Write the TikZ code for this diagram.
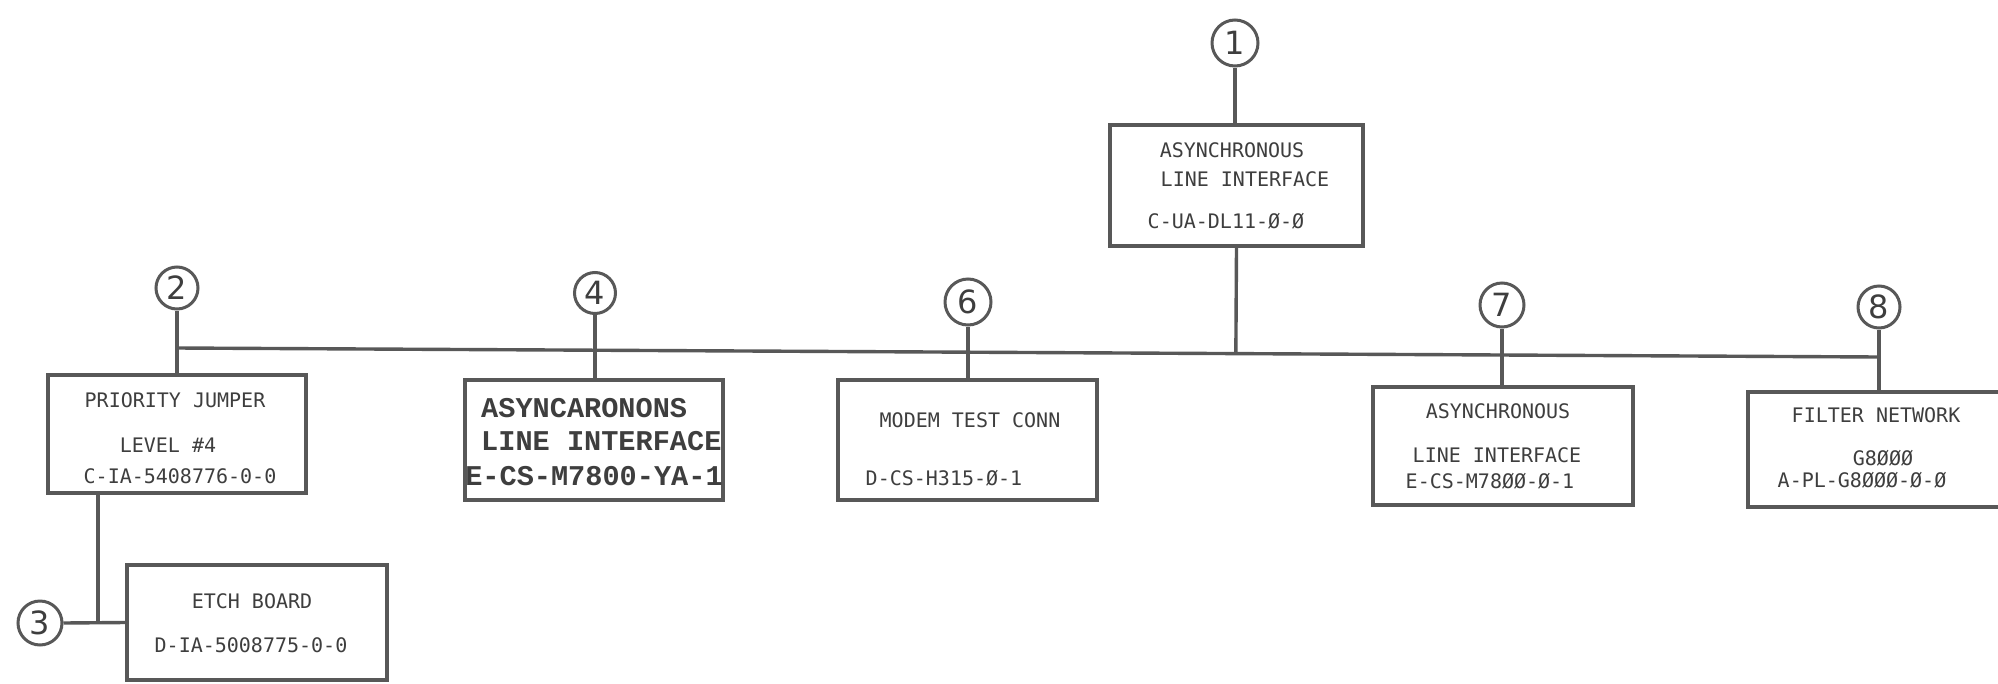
\documentclass[tikz,border=0pt]{standalone}
\usepackage{fontspec}
\setmainfont{DejaVu Sans}
\newfontfamily\leroy{DejaVu Sans Mono}
\newfontfamily\typew{Liberation Mono}
\usetikzlibrary{calc}
\definecolor{ink}{RGB}{88,88,88}
\definecolor{txt}{RGB}{62,62,62}
\tikzset{
  partbox/.style={draw=ink, line width=3.4pt, rectangle, inner sep=0pt},
  callout/.style={draw=ink, line width=3pt, circle, inner sep=0pt, minimum size=#1,
     font=\fontsize{32}{32}\selectfont, text=txt},
  wire/.style={draw=ink, line width=3.4pt},
  lbl/.style={anchor=base, inner sep=0pt, text=txt, font=\leroy\fontsize{20}{20}\selectfont},
  tlbl/.style={anchor=base west, inner sep=0pt, text=txt, font=\typew\bfseries\fontsize{28.6}{28.6}\selectfont}
}
\begin{document}
\begin{tikzpicture}[x=1pt,y=-1pt]
\useasboundingbox (0,0) rectangle (1998,683);
\fill[white] (0,0) rectangle (1998,683);

% boxes
\node[partbox, minimum width=253pt, minimum height=121pt] (b1) at (1236.5,185.5) {};
\node[partbox, minimum width=258pt, minimum height=118pt] (b2) at (177,434) {};
\node[partbox, minimum width=260pt, minimum height=115pt] (b3) at (257,622.5) {};
\node[partbox, minimum width=258pt, minimum height=120pt] (b4) at (594,440) {};
\node[partbox, minimum width=259pt, minimum height=120pt] (b6) at (967.5,440) {};
\node[partbox, minimum width=260pt, minimum height=118pt] (b7) at (1503,446) {};
\node[partbox, minimum width=262pt, minimum height=115pt] (b8) at (1879,449.5) {};

% callouts
\node[callout=46pt] (c1) at (1235,43) {1};
\node[callout=42pt] (c2) at (177,288) {2};
\node[callout=44pt] (c3) at (40,623) {3};
\node[callout=41pt] (c4) at (595,293) {4};
\node[callout=46pt] (c6) at (968,302) {6};
\node[callout=44pt] (c7) at (1502,305) {7};
\node[callout=42pt] (c8) at (1879,307) {8};

% bus
\coordinate (busL) at (177,348);
\coordinate (busR) at (1879,357);
\draw[wire] (busL) -- (busR);

% connectors
\draw[wire] (c1.south) -- (c1.south |- b1.north);
\draw[wire] (b1.south) -- ($(busL)!(b1.south)!(busR)$);
\draw[wire] (c2.south) -- (c2.south |- b2.north);
\draw[wire] (c4.south) -- (c4.south |- b4.north);
\draw[wire] (c6.south) -- (c6.south |- b6.north);
\draw[wire] (c7.south) -- (c7.south |- b7.north);
\draw[wire] (c8.south) -- (c8.south |- b8.north);
\coordinate (j3) at (98,623);
\draw[wire] (j3 |- b2.south) -- (j3);
\draw[wire] (c3.east) -- (b3.west);

% texts box 1
\node[lbl] (t1a) at (1232,157) {ASYNCHRONOUS};
\node[lbl] (t1b) at (1245,186) {LINE INTERFACE};
\node[lbl] (t1c) at (1226,228) {C-UA-DL11-Ø-Ø};
% box 2
\node[lbl] (t2a) at (175,407) {PRIORITY JUMPER};
\node[lbl] (t2b) at (168,452) {LEVEL \#4};
\node[lbl] (t2c) at (180,483) {C-IA-5408776-0-0};
% box 3
\node[lbl] (t3a) at (252,608) {ETCH BOARD};
\node[lbl] (t3b) at (251,652) {D-IA-5008775-0-0};
% box 4
\node[tlbl] (t4a) at (481,417) {ASYNCARONONS};
\node[tlbl] (t4b) at (481,450) {LINE INTERFACE};
\node[tlbl, anchor=base] (t4c) at (594,485) {E-CS-M7800-YA-1};
% box 6
\node[lbl] (t6a) at (970,427) {MODEM TEST CONN};
\node[lbl] (t6b) at (944,485) {D-CS-H315-Ø-1};
% box 7
\node[lbl] (t7a) at (1498,418) {ASYNCHRONOUS};
\node[lbl] (t7b) at (1497,462) {LINE INTERFACE};
\node[lbl] (t7c) at (1490,488) {E-CS-M78ØØ-Ø-1};
% box 8
\node[lbl] (t8a) at (1876,422) {FILTER NETWORK};
\node[lbl] (t8b) at (1883,465) {G8ØØØ};
\node[lbl] (t8c) at (1862,487) {A-PL-G8ØØØ-Ø-Ø};
\end{tikzpicture}
\end{document}
